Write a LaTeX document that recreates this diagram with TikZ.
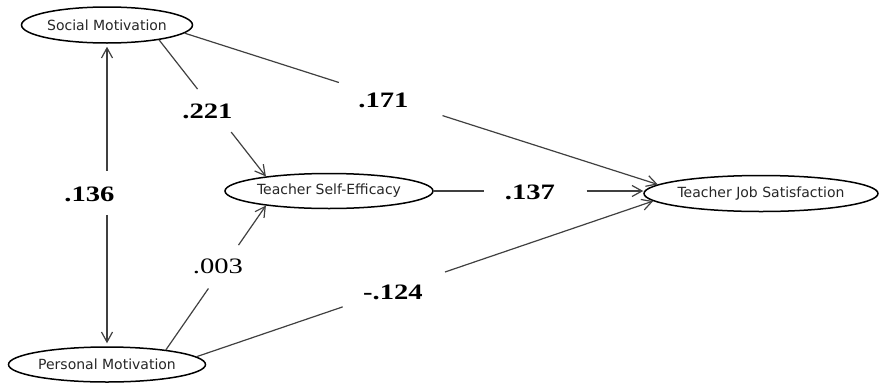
\documentclass[tikz,border=0pt]{standalone}
\usepackage{fontspec}
\setmainfont{Liberation Serif}
\newfontfamily\labfont[FakeStretch=1.3]{Liberation Serif}
\newfontfamily\elfont{DejaVu Sans}
\usetikzlibrary{shapes.geometric,arrows.meta,calc}
\tikzset{
  var/.style={ellipse, draw=black, line width=1.5pt, inner sep=0pt,
    font=\elfont\fontsize{14}{16}\selectfont, text=black!85},
  coef/.style={anchor=base, inner sep=0pt, font=\labfont\bfseries\fontsize{22}{24}\selectfont},
  coefplain/.style={anchor=base, inner sep=0pt, font=\labfont\fontsize{22}{24}\selectfont},
  conn/.style={draw=black!75, line width=1.2pt},
  tipend/.style={conn, -{Straight Barb[length=10pt,width=11pt]}},
  tipstart/.style={conn, {Straight Barb[length=10pt,width=11pt]}-}
}
\begin{document}
\begin{tikzpicture}[x=1pt,y=-1pt]
\useasboundingbox (0,0) rectangle (880,383);
% variables
\node[var, minimum width=171pt, minimum height=36pt] (sm) at (107,25) {\makebox[0pt]{Social Motivation}};
\node[var, minimum width=197pt, minimum height=35pt] (pm) at (107,364.5) {\makebox[0pt]{Personal Motivation}};
\node[var, minimum width=208pt, minimum height=35pt] (tse) at (329,191) {\makebox[0pt]{Teacher Self-Efficacy}};
\node[var, minimum width=234pt, minimum height=36pt] (tjs) at (761,193.5) {\makebox[0pt]{Teacher Job Satisfaction}};
% coefficients
\node[coef] (c136) at (89.5,201) {.136};
\node[coef] (c221) at (207.5,118.5) {.221};
\node[coef] (c171) at (383.5,107) {.171};
\node[coef] (c137) at (530,199) {.137};
\node[coefplain] (c003) at (218,273) {.003};
\node[coef] (c124) at (393,299) {-.124};
\coordinate (tjsin) at (tse.east -| tjs.west);
% Social <-> Personal
\draw[tipstart, shorten <=3pt] (sm.south) -- ($(sm.south)!0.421!(pm.north)$);
\draw[tipend, shorten >=3pt] ($(sm.south)!0.566!(pm.north)$) -- (pm.north);
% Social -> TSE
\draw[conn] (sm.-16) -- ($(sm.-16)!0.36!(tse.167)$);
\draw[tipend] ($(sm.-16)!0.675!(tse.167)$) -- (tse.167);
% Social -> TJS
\draw[conn] (sm.-6.2) -- ($(sm.-6.2)!0.326!(tjs.175.3)$);
\draw[tipend] ($(sm.-6.2)!0.545!(tjs.175.3)$) -- (tjs.175.3);
% TSE -> TJS
\draw[conn] (tse.east) -- ($(tse.east)!0.242!(tjsin)$);
\draw[tipend] ($(tse.east)!0.73!(tjsin)$) -- (tjsin);
% Personal -> TSE
\draw[conn] (pm.14.8) -- ($(pm.14.8)!0.425!(tse.193.1)$);
\draw[tipend] ($(pm.14.8)!0.726!(tse.193.1)$) -- (tse.193.1);
% Personal -> TJS
\draw[conn] (pm.5.4) -- ($(pm.5.4)!0.32!(tjs.184.9)$);
\draw[tipend] ($(pm.5.4)!0.544!(tjs.184.9)$) -- (tjs.184.9);
\end{tikzpicture}
\end{document}
